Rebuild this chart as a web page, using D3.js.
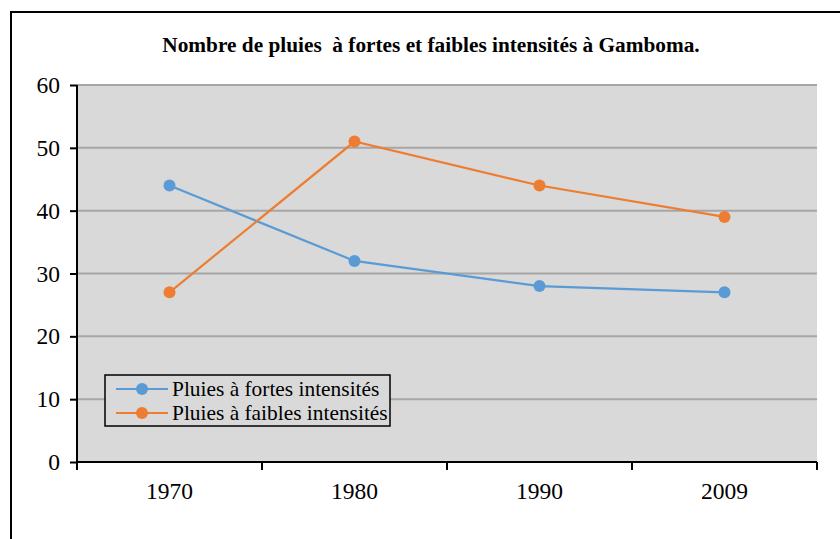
<!DOCTYPE html>
<html><head><meta charset="utf-8">
<script src="https://cdn.jsdelivr.net/npm/d3@7/dist/d3.min.js"></script>
<style>body{margin:0;background:#fff;}svg{display:block;}</style>
</head><body>
<svg id="c" width="840" height="539"></svg>
<script>
const categories = ["1970", "1980", "1990", "2009"];
const fortes = [44, 32, 28, 27];
const faibles = [27, 51, 44, 39];
const yTicks = [0, 10, 20, 30, 40, 50, 60];
const seriesNames = ["Pluies à fortes intensités", "Pluies à faibles intensités"];
const seriesColors = ["#5b9bd5", "#ed7d31"];
const title = "Nombre de pluies  à fortes et faibles intensités à Gamboma.";

const svg = d3.select("#c");
const font = "'Liberation Serif','Times New Roman',serif";
svg.append("path").attr("d","M11,539 L11,12 L840,12").attr("fill","none").attr("stroke","#000").attr("stroke-width",2);

const L = 77, R = 817, T = 85, B = 462;
const x = d3.scaleBand().domain(categories).range([L, R]);
const y = d3.scaleLinear().domain([0, 60]).range([B, T]);

svg.append("rect").attr("x",L).attr("y",T).attr("width",R-L).attr("height",B-T).attr("fill","#d9d9d9");

svg.append("g").selectAll("line").data(yTicks.filter(d=>d>0)).join("line")
  .attr("x1",L).attr("x2",R).attr("y1",d=>y(d)).attr("y2",d=>y(d))
  .attr("stroke","#a6a6a6").attr("stroke-width",2);

svg.append("text").attr("x",431).attr("y",52).attr("text-anchor","middle").style("white-space","pre")
  .style("font-family",font).attr("font-weight","bold").style("font-size","21.3px").text(title);

const yAxis = svg.append("g").attr("transform",`translate(${L},0)`)
  .call(d3.axisLeft(y).tickValues(yTicks).tickSize(7).tickPadding(10));
yAxis.attr("font-family",null).attr("font-size",null);
yAxis.select(".domain").attr("stroke","#000").attr("stroke-width",2).attr("d",`M0,${T}V${B}`);
yAxis.selectAll(".tick line").attr("stroke","#000").attr("stroke-width",2);
yAxis.selectAll(".tick text").style("font-family",font).style("font-size","23.5px").attr("fill","#000");

const xAxis = svg.append("g").attr("transform",`translate(0,${B})`);
xAxis.append("line").attr("x1",L).attr("x2",R).attr("stroke","#000").attr("stroke-width",2);
const bounds = categories.map(c=>x(c)).concat([R]);
xAxis.selectAll("line.tk").data(bounds).join("line").attr("class","tk")
  .attr("x1",d=>d).attr("x2",d=>d).attr("y1",0).attr("y2",8).attr("stroke","#000").attr("stroke-width",2);
xAxis.selectAll("text").data(categories).join("text")
  .attr("x",d=>x(d)+x.bandwidth()/2).attr("y",37).attr("text-anchor","middle")
  .style("font-family",font).style("font-size","23.5px").text(d=>d);

const series = [fortes, faibles];
const line = d3.line().x((d,i)=>x(categories[i])+x.bandwidth()/2).y(d=>y(d));
series.forEach((s,k)=>{
  svg.append("path").datum(s).attr("d",line).attr("fill","none").attr("stroke",seriesColors[k]).attr("stroke-width",2.2);
  svg.append("g").selectAll("circle").data(s).join("circle")
    .attr("cx",(d,i)=>x(categories[i])+x.bandwidth()/2).attr("cy",d=>y(d)).attr("r",6).attr("fill",seriesColors[k]);
});

const lg = svg.append("g");
lg.append("rect").attr("x",105).attr("y",375).attr("width",285).attr("height",51)
  .attr("fill","#d9d9d9").attr("stroke","#000").attr("stroke-width",1.5);
seriesNames.forEach((n,k)=>{
  const yy = 389 + k*24;
  lg.append("line").attr("x1",116).attr("x2",168).attr("y1",yy).attr("y2",yy).attr("stroke",seriesColors[k]).attr("stroke-width",2.2);
  lg.append("circle").attr("cx",142).attr("cy",yy).attr("r",6).attr("fill",seriesColors[k]);
  lg.append("text").attr("x",172).attr("y",yy+7).style("font-family",font).style("font-size","21.4px").text(n);
});
</script>
</body></html>
